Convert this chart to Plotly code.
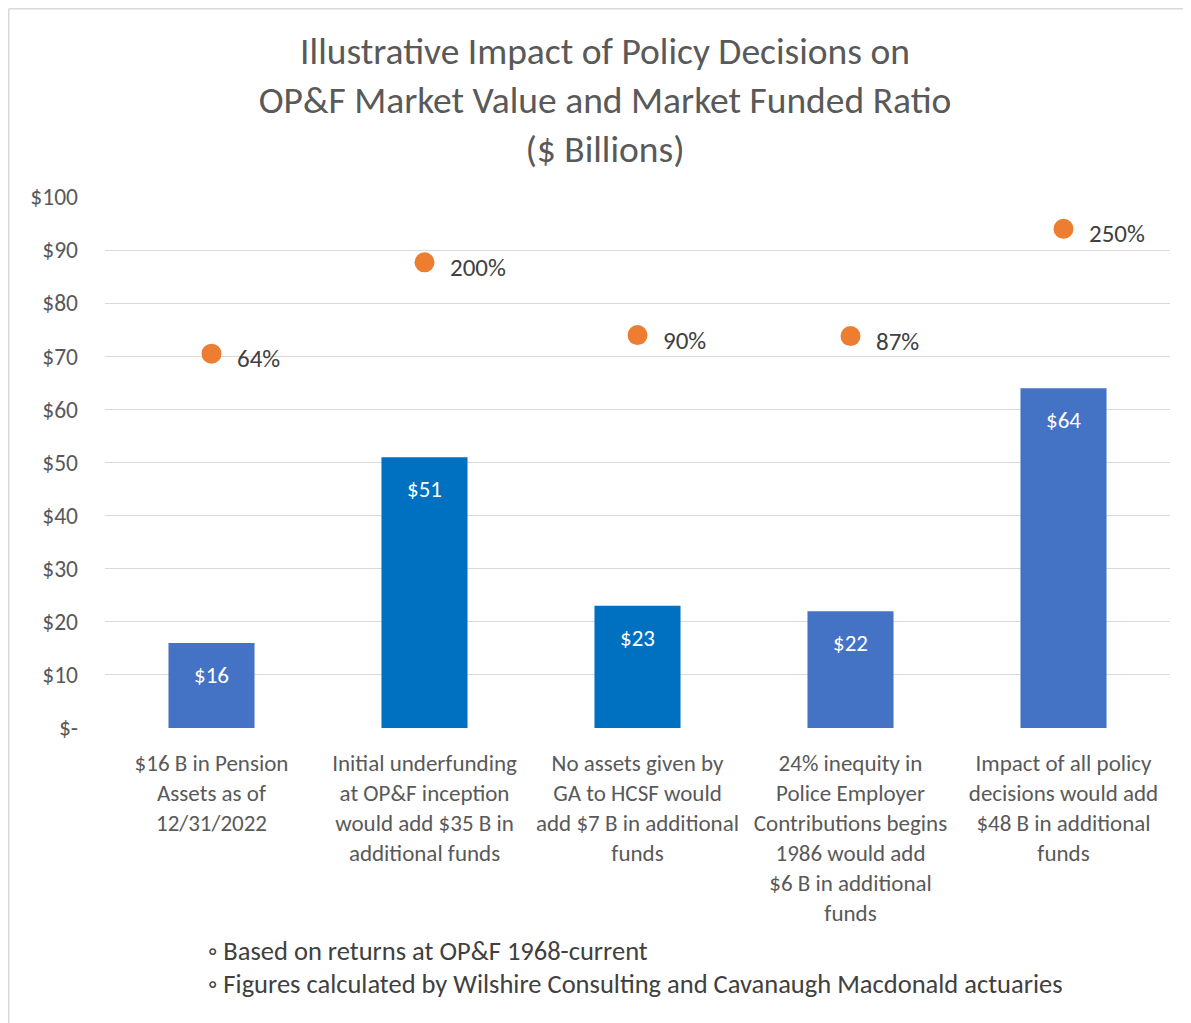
import plotly.graph_objects as go

categories = [
    "$16 B in Pension<br>Assets as of<br>12/31/2022",
    "Initial underfunding<br>at OP&F inception<br>would add $35 B in<br>additional funds",
    "No assets given by<br>GA to HCSF would<br>add $7 B in additional<br>funds",
    "24% inequity in<br>Police Employer<br>Contributions begins<br>1986 would add<br>$6 B in additional<br>funds",
    "Impact of all policy<br>decisions would add<br>$48 B in additional<br>funds",
]
market_value = [16, 51, 23, 22, 64]
bar_colors = ["#4472C4", "#0070C0", "#0070C0", "#4472C4", "#4472C4"]
ratio_marker_y = [70.5, 87.7, 74.0, 73.8, 94.0]
funded_ratio_labels = ["64%", "200%", "90%", "87%", "250%"]
y_tickvals = [0, 10, 20, 30, 40, 50, 60, 70, 80, 90, 100]
y_ticktext = ["$-", "$10", "$20", "$30", "$40", "$50", "$60", "$70", "$80", "$90", "$100"]
footnotes = [
    "◦ Based on returns at OP&F 1968-current",
    "◦ Figures calculated by Wilshire Consulting and Cavanaugh Macdonald actuaries",
]

FONT = "Carlito, Calibri, Lato, 'Open Sans', sans-serif"
x = list(range(len(categories)))

# page is drawn with an 8px body margin: figure pixel = page pixel - 8
OFF = 8
W, H = 1183, 1015
L, R, T, B = 97, 21, 189, 295
pw, ph = W - L - R, H - T - B


def px_x(p):
    return (p - OFF - L) / pw


def px_y(p):
    return (H - B - (p - OFF)) / ph


fig = go.Figure()
fig.add_trace(go.Bar(
    x=x, y=market_value, marker=dict(color=bar_colors, line=dict(width=0)),
    hoverinfo="skip", showlegend=False,
))
fig.add_trace(go.Scatter(
    x=x, y=ratio_marker_y, mode="markers",
    marker=dict(color="#ED7D31", size=20, line=dict(width=0)),
    hoverinfo="skip", showlegend=False,
))

annotations = []
for xi, v in zip(x, market_value):
    annotations.append(dict(
        x=xi, y=v, xref="x", yref="y", text=f"${v}", showarrow=False,
        yanchor="middle", yshift=-32,
        font=dict(family=FONT, size=23, color="#FFFFFF"),
    ))
for xi, yv, lab in zip(x, ratio_marker_y, funded_ratio_labels):
    annotations.append(dict(
        x=xi, y=yv, xref="x", yref="y", text=lab, showarrow=False,
        xanchor="left", yanchor="middle", xshift=23, yshift=-5,
        font=dict(family=FONT, size=25, color="#404040"),
    ))

for i, t in enumerate(footnotes):
    annotations.append(dict(
        x=px_x(206), y=px_y(951 + 33 * i), xref="paper", yref="paper",
        text=t, showarrow=False, xanchor="left", yanchor="middle",
        font=dict(family=FONT, size=26.5, color="#404040"),
    ))

shapes = [
    dict(type="line", xref="paper", yref="paper",
         x0=px_x(8.8), x1=px_x(8.8), y0=px_y(8.8), y1=px_y(1023),
         line=dict(color="#D9D9D9", width=1.5)),
    dict(type="line", xref="paper", yref="paper",
         x0=px_x(8.8), x1=px_x(1191), y0=px_y(8.8), y1=px_y(8.8),
         line=dict(color="#D9D9D9", width=1.5)),
]

fig.update_layout(
    width=W, height=H,
    margin=dict(l=L, r=R, t=T, b=B, autoexpand=False),
    paper_bgcolor="white", plot_bgcolor="white",
    bargap=0.596,
    title=dict(
        text="Illustrative Impact of Policy Decisions on<br>OP&F Market Value and Market Funded Ratio<br>($ Billions)",
        x=(605 - OFF) / W, xanchor="center", xref="container",
        y=1 - 56 / H, yanchor="middle", yref="container",
        font=dict(family=FONT, size=37.5, color="#595959"),
    ),
    xaxis=dict(
        range=[-0.5, 4.5], tickvals=x, ticktext=categories,
        showgrid=False, zeroline=False, showline=False, ticks="",
        tickfont=dict(family=FONT, size=23, color="#595959"),
        ticklabelstandoff=19,
    ),
    yaxis=dict(
        range=[0, 100], tickvals=y_tickvals, ticktext=y_ticktext,
        showgrid=True, gridcolor="#D9D9D9", gridwidth=1.3,
        zeroline=False, showline=False, ticks="",
        tickfont=dict(family=FONT, size=23.5, color="#595959"),
        ticklabelstandoff=26,
    ),
    annotations=annotations,
    shapes=shapes,
)

fig.write_html("out.html")
